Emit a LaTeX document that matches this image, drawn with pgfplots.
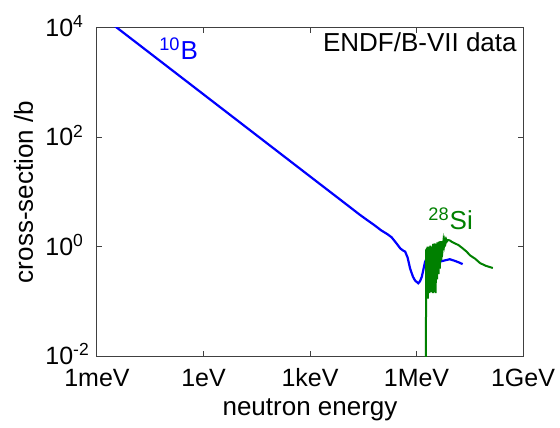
\documentclass[border=0pt]{standalone}
\usepackage{pgfplots}
\pgfplotsset{compat=1.18}
\usepackage{fontspec}
\setmainfont{Liberation Sans}

\definecolor{bcol}{RGB}{0,0,255}
\definecolor{gcol}{RGB}{0,128,0}

% 10B total cross-section (E in eV, sigma in b)
\pgfplotstableread{
E sigma
1e-3 19315
1 610.8
1e3 19.3
1e4 6.11
25119 3.85
39811 3.10
63096 2.51
1e5 2.00
1.585e5 1.66
1.995e5 1.48
2.818e5 1.12
3.467e5 0.933
4.169e5 0.851
4.786e5 0.813
5.623e5 0.631
6.607e5 0.398
7.943e5 0.282
9.120e5 0.240
1.122e6 0.214
1.259e6 0.234
1.413e6 0.282
1.585e6 0.398
1.738e6 0.525
1.950e6 0.617
2.512e6 0.562
3.548e6 0.501
4.786e6 0.537
6.310e6 0.562
8.710e6 0.589
1.202e7 0.550
1.585e7 0.513
1.995e7 0.479
}\boron

% 28Si total cross-section
\pgfplotstableread{
E sigma
1.841e6 0.00316
1.862e6 0.891
1.905e6 0.126
1.950e6 0.955
1.995e6 0.251
2.042e6 1.0
2.089e6 0.112
2.138e6 0.891
2.188e6 0.178
2.239e6 1.0
2.291e6 0.141
2.344e6 0.794
2.399e6 0.282
2.455e6 1.047
2.512e6 0.148
2.570e6 0.891
2.630e6 0.355
2.692e6 0.98
2.754e6 0.200
2.818e6 1.0
2.884e6 0.141
2.951e6 1.122
3.020e6 0.251
3.090e6 0.93
3.162e6 0.148
3.236e6 1.148
3.311e6 0.316
3.388e6 1.096
3.467e6 0.141
3.548e6 1.02
3.631e6 0.398
3.715e6 1.122
3.802e6 0.251
3.890e6 1.202
3.981e6 0.501
4.074e6 1.10
4.169e6 0.316
4.266e6 1.230
4.365e6 0.603
4.467e6 1.175
4.571e6 0.398
4.677e6 1.259
4.786e6 0.708
4.898e6 1.202
5.012e6 0.562
5.248e6 1.259
5.495e6 0.955
5.754e6 1.288
6.026e6 1.072
6.310e6 1.318
6.607e6 1.175
6.918e6 1.349
7.244e6 1.259
7.586e6 1.318
7.943e6 1.318
8.913e6 1.288
9.772e6 1.230
1.202e7 1.148
1.514e7 1.072
1.995e7 0.933
2.570e7 0.813
3.236e7 0.692
4.467e7 0.603
6.166e7 0.501
8.913e7 0.447
1.413e8 0.407
}\silicon

\begin{document}
\begin{tikzpicture}
\fontsize{13}{15}\selectfont
\begin{axis}[
    at={(0,0)}, anchor=south west,
    scale only axis, width=213pt, height=164pt,
    xmode=log, ymode=log,
    xmin=1e-3, xmax=1e9, ymin=1e-2, ymax=1e4,
    xtick={1e-3,1,1e3,1e6,1e9},
    xticklabels={1meV,1eV,1keV,1MeV,1GeV},
    ytick={1e-2,1,1e2,1e4},
    yticklabels={10\textsuperscript{-2},10\textsuperscript{0},10\textsuperscript{2},10\textsuperscript{4}},
    minor tick num=0, minor xtick={}, minor ytick={},
    tick align=inside, major tick length=2.5pt,
    axis line style={black!75, line width=0.5pt},
    every tick/.style={black!75, line width=0.5pt},
    tick label style={font=\fontsize{12.5}{14.5}\selectfont, inner sep=0pt},
    xticklabel style={anchor=base, yshift=-15pt},
    yticklabel style={anchor=base west, xshift=-26pt, yshift=-4.25pt},
    label style={font=\fontsize{13}{15}\selectfont, inner sep=0pt},
    xlabel={neutron energy},
    xlabel style={at={(axis description cs:0.5,0)}, anchor=base, yshift=-29.5pt},
    ylabel={cross-section /b},
    ylabel style={at={(axis description cs:0,0.5)}, anchor=base, yshift=32pt},
    clip=true,
]
\addplot[bcol, line width=1.1pt] table[x=E, y=sigma] {\boron};
\addplot[gcol, line width=1.0pt] table[x=E, y=sigma] {\silicon};
\node[bcol, anchor=base west, inner sep=0pt] at (axis cs:0.0557,2692) {\textsuperscript{10}B};
\node[gcol, anchor=base west, inner sep=0pt] at (axis cs:2.11e6,2.10) {\textsuperscript{28}Si};
\node[anchor=base east, inner sep=0pt] at (axis cs:6.8e8,3770) {ENDF/B-VII data};
\end{axis}
\pgfresetboundingbox
\path[use as bounding box] (-48.5pt,-35.5pt) rectangle (231.5pt,178pt);
\end{tikzpicture}
\end{document}
